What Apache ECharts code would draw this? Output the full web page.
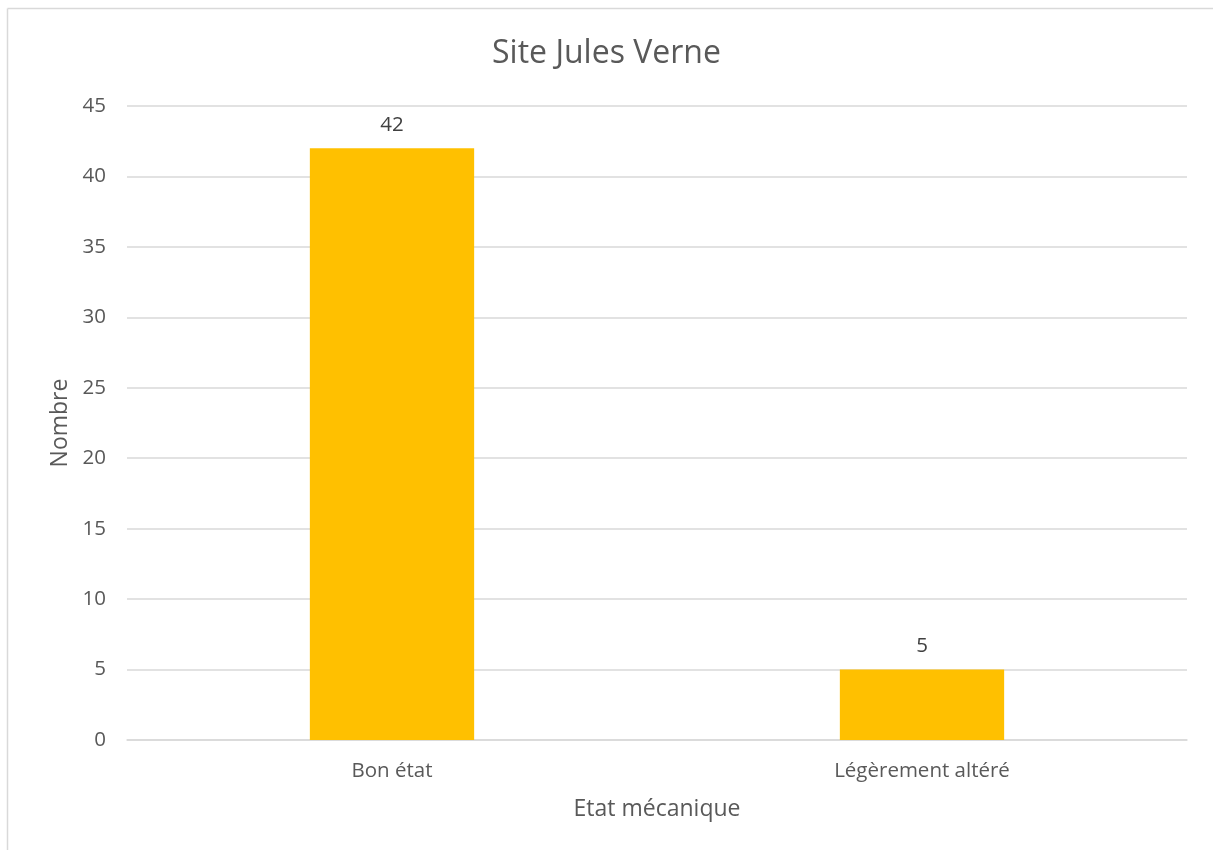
<!DOCTYPE html>
<html lang="fr" style="height: 100%">

<head>
  <meta charset="utf-8">
  <title>Site Jules Verne</title>
  <script src="https://cdn.jsdelivr.net/npm/echarts@6/dist/echarts.min.js"></script>
</head>

<body style="height: 100%; margin: 0; background: #fff">
  <div id="chart" style="height: 850px; width: 1213px"></div>
  <script type="text/javascript">
    const categories = ['Bon état', 'Légèrement altéré'];
    const values = [42, 5];
    const yTicks = { min: 0, max: 45, interval: 5 };

    const font = 'Open Sans, Liberation Sans, sans-serif';
    const textColor = '#595959';

    const chart = echarts.init(document.getElementById('chart'), null, { renderer: 'canvas' });
    const option = {
      backgroundColor: '#fff',
      animation: false,
      // chart frame (only top and left edges are visible)
      graphic: [
        { type: 'line', shape: { x1: 7.5, y1: 8.5, x2: 1213, y2: 8.5 }, style: { stroke: '#d9d9d9', lineWidth: 1.5 } },
        { type: 'line', shape: { x1: 7.5, y1: 8.5, x2: 7.5, y2: 850 }, style: { stroke: '#d9d9d9', lineWidth: 1.5 } }
      ],
      title: {
        text: 'Site Jules Verne',
        left: 'center',
        top: 33,
        textStyle: { fontFamily: font, fontSize: 32, fontWeight: 'normal', color: textColor }
      },
      grid: { left: 127, right: 26, top: 106, bottom: 110 },
      xAxis: {
        type: 'category',
        data: categories,
        name: 'Etat mécanique',
        nameLocation: 'middle',
        nameGap: 58,
        nameTextStyle: { fontFamily: font, fontSize: 23, color: textColor },
        axisLine: { lineStyle: { color: '#d9d9d9', width: 1.5 } },
        axisTick: { show: false },
        axisLabel: { fontFamily: font, fontSize: 20.5, color: textColor, margin: 21 }
      },
      yAxis: {
        type: 'value',
        min: yTicks.min,
        max: yTicks.max,
        interval: yTicks.interval,
        name: 'Nombre',
        nameLocation: 'middle',
        nameGap: 55,
        nameTextStyle: { fontFamily: font, fontSize: 23, color: textColor },
        axisLine: { show: false },
        axisTick: { show: false },
        axisLabel: { fontFamily: font, fontSize: 20.5, color: textColor, margin: 21 },
        splitLine: { lineStyle: { color: '#d9d9d9', width: 1.5 } }
      },
      series: [{
        type: 'bar',
        data: values,
        barWidth: '31%',
        itemStyle: { color: '#ffc000' },
        label: {
          show: true,
          position: 'top',
          distance: 13,
          fontFamily: font,
          fontSize: 20.5,
          color: '#404040'
        }
      }]
    };
    chart.setOption(option);
  </script>
</body>

</html>
